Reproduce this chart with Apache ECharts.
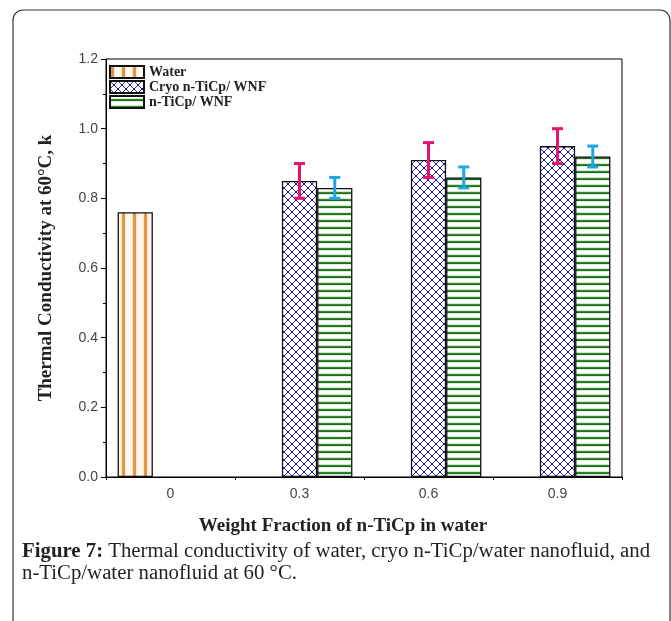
<!DOCTYPE html>
<html>
<head>
<meta charset="utf-8">
<script src="https://cdn.jsdelivr.net/npm/echarts@6/dist/echarts.min.js"></script>
<style>html,body{margin:0;padding:0;background:#fff;}#c{width:671px;height:621px;}</style>
</head>
<body>
<div id="c"></div>
<script>
// ---- data ----
const categories = ['0', '0.3', '0.6', '0.9'];
const seriesNames = ['Water', 'Cryo n-TiCp/ WNF', 'n-TiCp/ WNF'];
const waterValues = [0.76, null, null, null];
const cryoValues = [null, 0.85, 0.91, 0.95];
const cryoErrors = [null, 0.05, 0.05, 0.05];
const nticValues = [null, 0.83, 0.86, 0.92];
const nticErrors = [null, 0.03, 0.03, 0.03];
const yTicks = [0, 0.2, 0.4, 0.6, 0.8, 1.0, 1.2];

// ---- patterns ----
function makePattern(w, h, draw) {
  const c = document.createElement('canvas');
  c.width = w; c.height = h;
  const g = c.getContext('2d');
  g.fillStyle = '#ffffff'; g.fillRect(0, 0, w, h);
  draw(g);
  return c;
}
const waterPat = makePattern(11, 4, g => {
  g.fillStyle = '#fde6b8'; g.fillRect(0, 0, 1, 4);
  g.fillStyle = '#f39a22'; g.fillRect(1, 0, 1, 4);
  g.fillStyle = '#d99465'; g.fillRect(2, 0, 2, 4);
  g.fillStyle = '#fbe9cf'; g.fillRect(4, 0, 1, 4);
  g.fillStyle = '#fff7ea'; g.fillRect(5, 0, 6, 4);
});
const cryoPat = makePattern(8, 8, g => {
  g.strokeStyle = '#2e2e8c'; g.lineWidth = 1;
  g.beginPath();
  g.moveTo(0, 0); g.lineTo(8, 8);
  g.moveTo(8, 0); g.lineTo(0, 8);
  g.stroke();
  g.fillStyle = '#1212b8';
  g.fillRect(3, 3, 2, 2);
  g.fillRect(0, 0, 1, 1); g.fillRect(7, 7, 1, 1); g.fillRect(7, 0, 1, 1); g.fillRect(0, 7, 1, 1);
});
const nticPat = makePattern(4, 7, g => {
  g.fillStyle = '#cfe8c8'; g.fillRect(0, 2, 4, 1);
  g.fillStyle = '#2f8a2f'; g.fillRect(0, 3, 4, 1);
  g.fillStyle = '#1f6a1f'; g.fillRect(0, 4, 4, 1);
  g.fillStyle = '#dff0da'; g.fillRect(0, 5, 4, 1);
});

const GAP = 0.18;
function errSeries(values, errors, slot, color) {
  const data = [];
  values.forEach((v, i) => { if (v != null) data.push([i, v, errors[i]]); });
  return {
    type: 'custom', z: 10, silent: true,
    data: data,
    encode: { x: 0, y: 1 },
    renderItem: function (params, api) {
      const i = api.value(0), v = api.value(1), e = api.value(2);
      const bw = api.size([1, 0])[0] * (1 - GAP) / 3;
      const top = api.coord([i, v + e]);
      const bot = api.coord([i, v - e]);
      const x = top[0] + slot * bw;
      const cap = 5.5;
      const st = { stroke: color, lineWidth: 3 };
      return {
        type: 'group',
        children: [
          { type: 'line', shape: { x1: x, y1: top[1], x2: x, y2: bot[1] }, style: st },
          { type: 'line', shape: { x1: x - cap, y1: top[1], x2: x + cap, y2: top[1] }, style: st },
          { type: 'line', shape: { x1: x - cap, y1: bot[1], x2: x + cap, y2: bot[1] }, style: st }
        ]
      };
    }
  };
}

const chart = echarts.init(document.getElementById('c'), null, { renderer: 'canvas' });
const serifBold = { fontFamily: 'Liberation Serif', fontWeight: 'bold', color: '#222' };

chart.setOption({
  animation: false,
  backgroundColor: '#fff',
  grid: { left: 106, top: 59, right: 49, bottom: 144, show: true, borderColor: '#000', borderWidth: 1 },
  legend: {
    data: seriesNames,
    orient: 'vertical',
    left: 109, top: 65, padding: 0,
    itemWidth: 34, itemHeight: 12, itemGap: 1,
    textStyle: Object.assign({ fontSize: 14, lineHeight: 14 }, serifBold),
    icon: 'rect'
  },
  xAxis: [{
    type: 'category', data: categories,
    axisLine: { lineStyle: { color: '#000', width: 1 } },
    axisTick: { alignWithLabel: true, length: 5, lineStyle: { color: '#000' } },
    axisLabel: { fontFamily: 'Liberation Sans', fontSize: 14, color: '#444', margin: 10 },
    name: 'Weight Fraction of n-TiCp in water',
    nameLocation: 'middle', nameGap: 40,
    nameTextStyle: Object.assign({ fontSize: 19, padding: [0, 42, 0, 0] }, serifBold)
  }, {
    type: 'category', data: categories, position: 'bottom', offset: 0,
    axisLine: { show: false },
    axisTick: { show: true, length: 3, alignWithLabel: false, lineStyle: { color: '#000' } },
    axisLabel: { show: false }
  }],
  yAxis: {
    type: 'value', min: yTicks[0], max: yTicks[yTicks.length - 1], interval: 0.2,
    axisLine: { show: true, lineStyle: { color: '#000', width: 1 } },
    axisTick: { show: true, length: 5, lineStyle: { color: '#000' } },
    minorTick: { show: true, splitNumber: 2, length: 3, lineStyle: { color: '#000' } },
    splitLine: { show: false },
    axisLabel: { fontFamily: 'Liberation Sans', fontSize: 14, color: '#444', margin: 8,
      formatter: v => v.toFixed(1) },
    name: 'Thermal Conductivity at 60°C, k',
    nameLocation: 'middle', nameGap: 50, nameRotate: 90,
    nameTextStyle: Object.assign({ fontSize: 19 }, serifBold)
  },
  series: [
    { name: seriesNames[0], type: 'bar', data: waterValues, barGap: '0%', barCategoryGap: (GAP * 100) + '%',
      itemStyle: { color: { image: waterPat, repeat: 'repeat' }, borderColor: '#111', borderWidth: 1.3 } },
    { name: seriesNames[1], type: 'bar', data: cryoValues, barGap: '0%', barCategoryGap: (GAP * 100) + '%',
      itemStyle: { color: { image: cryoPat, repeat: 'repeat' }, borderColor: '#111', borderWidth: 1.3 } },
    { name: seriesNames[2], type: 'bar', data: nticValues, barGap: '0%', barCategoryGap: (GAP * 100) + '%',
      itemStyle: { color: { image: nticPat, repeat: 'repeat' }, borderColor: '#111', borderWidth: 1.3 } },
    errSeries(cryoValues, cryoErrors, 0, '#e8136c'),
    errSeries(nticValues, nticErrors, 1, '#1ea6e6')
  ],
  graphic: [
    { type: 'rect', z: 0, shape: { x: 13, y: 10, width: 657, height: 622, r: 10 },
      style: { fill: 'none', stroke: '#333', lineWidth: 1.2 } },
    { type: 'text', left: 22, top: 541,
      style: {
        text: '{b|Figure 7:} Thermal conductivity of water, cryo n-TiCp/water nanofluid, and\nn-TiCp/water nanofluid at 60 °C.',
        font: '20.8px "Liberation Serif"', fill: '#231f20', lineHeight: 22,
        rich: { b: { fontFamily: 'Liberation Serif', fontWeight: 'bold', fontSize: 20.8, fill: '#231f20', lineHeight: 22 } }
      } }
  ]
});
</script>
</body>
</html>
